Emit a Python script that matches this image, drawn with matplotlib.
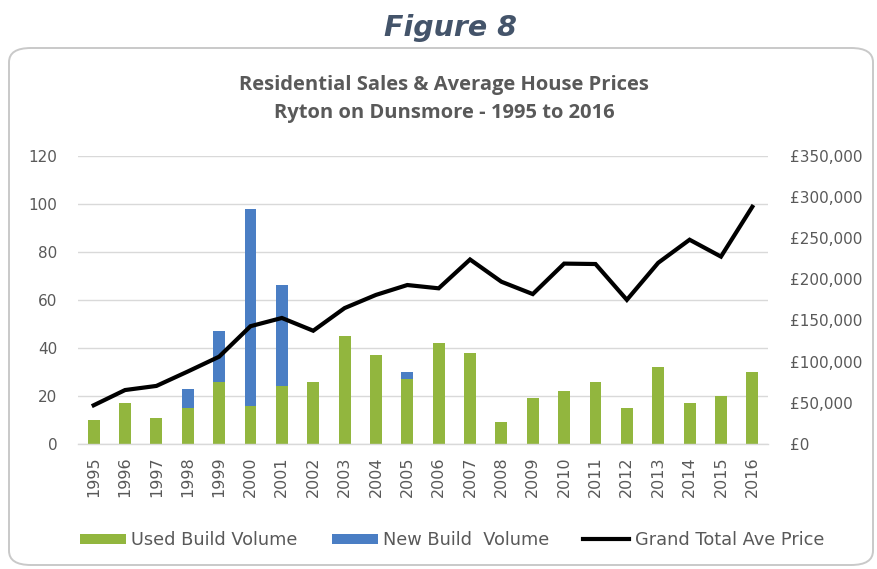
import matplotlib
matplotlib.use("Agg")
import matplotlib.pyplot as plt
from matplotlib.patches import FancyBboxPatch
from matplotlib.ticker import FuncFormatter, MultipleLocator

# Sales volumes and average prices, Ryton on Dunsmore
years = [str(y) for y in range(1995, 2017)]
used_build = [10, 17, 11, 15, 26, 16, 24, 26, 45, 37, 27, 42, 38, 9, 19, 22, 26, 15, 32, 17, 20, 30]
new_build = [0, 0, 0, 8, 21, 82, 42, 0, 0, 0, 3, 0, 0, 0, 0, 0, 0, 0, 0, 0, 0, 0]
ave_price = [47000, 65500, 70500, 88000, 106000, 143000, 153000, 137500, 165000, 181000,
             193000, 189000, 224000, 197000, 182000, 219000, 218500, 175000, 220000,
             248000, 227500, 288000]

GREEN = "#92b63e"
BLUE = "#4a7ec4"
GREY_TXT = "#595959"
GRID = "#d9d9d9"

fig = plt.figure(figsize=(8.77, 5.69), dpi=100)
fig.patch.set_facecolor("white")

# rounded chart frame, drawn beneath the axes
W, H = 877, 569
frame = FancyBboxPatch((9 / W, 4 / H), 864 / W, (H - 48 - 4) / H,
                       boxstyle="round,pad=0,rounding_size=0.025",
                       transform=fig.transFigure, facecolor="white",
                       edgecolor="#c9c9c9", linewidth=1.4, zorder=-5)
fig.patches.append(frame)

fig.text(450 / W, 1 - 28 / H, "Figure 8", ha="center", va="center",
         fontsize=20.5, fontweight="bold", fontstyle="oblique",
         family="DejaVu Sans", color="#44546a")

fig.text(444 / W, 1 - 85 / H, "Residential Sales & Average House Prices",
         ha="center", va="center", fontsize=14.5, fontweight="bold",
         family="Open Sans", color=GREY_TXT)
fig.text(444 / W, 1 - 113 / H, "Ryton on Dunsmore - 1995 to 2016",
         ha="center", va="center", fontsize=14.5, fontweight="bold",
         family="Open Sans", color=GREY_TXT)

ax = fig.add_axes([78 / W, 125 / H, 690 / W, 288.3 / H])
ax.set_facecolor("none")
x = range(len(years))
bw = 0.38
b1 = ax.bar(x, used_build, width=bw, color=GREEN, zorder=2, label="Used Build Volume")
b2 = ax.bar(x, new_build, width=bw, bottom=used_build, color=BLUE, zorder=2,
            label="New Build  Volume")
ax.set_xlim(-0.5, len(years) - 0.5)
ax.set_ylim(0, 120)
ax.yaxis.set_major_locator(MultipleLocator(20))
ax.grid(axis="y", color=GRID, linewidth=1, zorder=0)
ax.set_axisbelow(True)
for s in ["top", "right", "left"]:
    ax.spines[s].set_visible(False)
ax.spines["bottom"].set_color(GRID)
ax.spines["bottom"].set_linewidth(1)
ax.set_xticks(list(x))
ax.set_xticklabels(years, rotation=90, family="DejaVu Sans", fontsize=11.5, color=GREY_TXT)
ax.tick_params(axis="x", length=0, pad=9)
ax.tick_params(axis="y", length=0, pad=15, labelsize=11, labelcolor=GREY_TXT)

ax2 = ax.twinx()
ln, = ax2.plot(list(x), ave_price, color="black", linewidth=3, zorder=3,
               solid_joinstyle="miter", label="Grand Total Ave Price")
ax2.set_ylim(0, 350000)
ax2.yaxis.set_major_locator(MultipleLocator(50000))
ax2.yaxis.set_major_formatter(FuncFormatter(lambda v, p: "£{:,.0f}".format(v)))
ax2.tick_params(axis="y", length=0, pad=16, labelsize=11, labelcolor=GREY_TXT)
for s in ax2.spines.values():
    s.set_visible(False)

leg = fig.legend([b1, b2, ln], ["Used Build Volume", "New Build  Volume", "Grand Total Ave Price"],
                 loc="center", bbox_to_anchor=(452 / W, 1 - 540 / H), ncol=3,
                 frameon=False, handlelength=2.6, handleheight=0.5,
                 handletextpad=0.3, columnspacing=1.9,
                 prop={"family": "DejaVu Sans", "size": 12.8})
for t in leg.get_texts():
    t.set_color(GREY_TXT)

fig.savefig("out.png", dpi=100, facecolor="white")
